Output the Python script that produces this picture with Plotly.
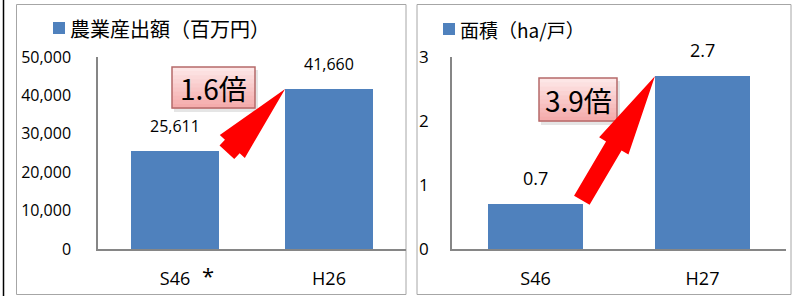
import math
import plotly.graph_objects as go

W, H = 796, 296

# ---------------- data ----------------
left_categories = ["S46", "H26"]
left_values = [25611, 41660]
left_title = "農業産出額（百万円）"
left_ratio_label = "1.6倍"
left_ticks = [0, 10000, 20000, 30000, 40000, 50000]
left_note_mark = "*"

right_categories = ["S46", "H27"]
right_values = [0.7, 2.7]
right_title = "面積（ha/戸）"
right_ratio_label = "3.9倍"
right_ticks = [0, 1, 2, 3]

# ---------------- style ----------------
BAR = "#4F81BD"
AXIS = "#868686"
FRAME = "#A6A6A6"
LAT = "Open Sans, Noto Sans CJK JP, sans-serif"
CJK = "Noto Sans CJK JP, sans-serif"
BAR_W = 0.57


def px(x):
    return x / W


def py(y):
    return 1 - y / H


fig = go.Figure()
fig.add_trace(go.Bar(x=list(range(len(left_values))), y=left_values, width=BAR_W,
                     marker=dict(color=BAR, line=dict(width=0)), name=left_title,
                     xaxis="x", yaxis="y", hoverinfo="y", showlegend=False))
fig.add_trace(go.Bar(x=list(range(len(right_values))), y=right_values, width=BAR_W,
                     marker=dict(color=BAR, line=dict(width=0)), name=right_title,
                     xaxis="x2", yaxis="y2", hoverinfo="y", showlegend=False))

ydom = [py(249), py(57)]
common_x = dict(range=[-0.5, 1.5], showline=True, linecolor=AXIS, linewidth=1.5,
                showgrid=False, zeroline=False, ticks="", fixedrange=True, automargin=False,
                tickfont=dict(family=LAT, size=18, color="#000"), ticklabelstandoff=13)
common_y = dict(showline=True, linecolor=AXIS, linewidth=1.5, showgrid=False,
                zeroline=False, ticks="", fixedrange=True, automargin=False,
                tickfont=dict(family=LAT, size=16, color="#000"))

fig.update_layout(
    width=W, height=H, autosize=False,
    margin=dict(l=0, r=0, t=0, b=0, pad=0, autoexpand=False),
    paper_bgcolor="white", plot_bgcolor="white", bargap=0,
    xaxis=dict(common_x, domain=[px(98), px(406)], anchor="y",
               tickvals=list(range(len(left_categories))), ticktext=left_categories),
    yaxis=dict(common_y, domain=ydom, anchor="x", range=[0, max(left_ticks)],
               tickvals=left_ticks, tickformat=",", ticklabelstandoff=22),
    xaxis2=dict(common_x, domain=[px(452), px(786)], anchor="y2",
                tickvals=list(range(len(right_categories))), ticktext=right_categories),
    yaxis2=dict(common_y, domain=ydom, anchor="x2", range=[0, max(right_ticks)],
                tickvals=right_ticks, ticklabelstandoff=18,
                tickfont=dict(family=LAT, size=17, color="#000")),
)

shapes = []
annotations = []

# panel frames and left edge line
shapes.append(dict(type="rect", xref="paper", yref="paper", x0=px(16.5), x1=px(406),
                   y0=py(294.5), y1=py(4.5), line=dict(color=FRAME, width=1), layer="below"))
shapes.append(dict(type="rect", xref="paper", yref="paper", x0=px(417), x1=px(791),
                   y0=py(294.5), y1=py(4.5), line=dict(color=FRAME, width=1), layer="below"))
shapes.append(dict(type="line", xref="paper", yref="paper", x0=px(3.5), x1=px(3.5),
                   y0=0, y1=1, line=dict(color="#000", width=1.5)))

# legends (manual)
def legend(x_sq, y_mid, text, size):
    shapes.append(dict(type="rect", xref="paper", yref="paper", x0=px(x_sq), x1=px(x_sq + 12),
                       y0=py(y_mid + 6), y1=py(y_mid - 6), fillcolor=BAR, line=dict(width=0)))
    annotations.append(dict(xref="paper", yref="paper", x=px(x_sq + 15), y=py(y_mid),
                            xanchor="left", yanchor="middle", text=text, showarrow=False,
                            font=dict(family=CJK, size=size, color="#000")))

legend(53, 28, left_title, 20)
legend(443, 29, right_title, 19)

# value labels
for xa, ya, vals, fmt, size in [("x", "y", left_values, "{:,}", 16),
                                ("x2", "y2", right_values, "{}", 18)]:
    for i, v in enumerate(vals):
        annotations.append(dict(xref=xa, yref=ya, x=i, y=v, yanchor="bottom", yshift=12,
                                text=fmt.format(v), showarrow=False,
                                font=dict(family=LAT, size=size, color="#000")))

# note mark next to first left category
annotations.append(dict(xref="x", yref="paper", x=0, y=py(275), xshift=33,
                        yanchor="middle", text=left_note_mark, showarrow=False,
                        font=dict(family=LAT, size=22, color="#000")))


# ratio boxes (gradient simulated with strips)
def ratio_box(x0, y0, x1, y1, text):
    shapes.append(dict(type="rect", xref="paper", yref="paper", x0=px(x0 + 2), x1=px(x1 + 3),
                       y0=py(y1 + 4), y1=py(y0 + 3), fillcolor="rgba(0,0,0,0.10)",
                       line=dict(width=0)))
    n = 10
    top = (253, 230, 230)
    bot = (244, 172, 172)
    for k in range(n):
        t = k / (n - 1)
        c = tuple(round(top[j] + (bot[j] - top[j]) * t) for j in range(3))
        ya = y0 + (y1 - y0) * k / n
        yb = y0 + (y1 - y0) * (k + 1) / n
        shapes.append(dict(type="rect", xref="paper", yref="paper", x0=px(x0), x1=px(x1),
                           y0=py(yb + 0.5), y1=py(ya), fillcolor="rgb(%d,%d,%d)" % c,
                           line=dict(width=0)))
    shapes.append(dict(type="rect", xref="paper", yref="paper", x0=px(x0), x1=px(x1),
                       y0=py(y1), y1=py(y0), fillcolor="rgba(0,0,0,0)",
                       line=dict(color="#B56A6A", width=1.5)))
    annotations.append(dict(xref="paper", yref="paper", x=px((x0 + x1) / 2),
                            y=py((y0 + y1) / 2), xanchor="center", yanchor="middle",
                            text=text, showarrow=False,
                            font=dict(family=CJK, size=28, color="#000")))

ratio_box(172, 67, 255, 108, left_ratio_label)
ratio_box(539, 78, 617, 121, right_ratio_label)


# block arrows (pixel geometry anchored at top-left corner of second bar)
def arrow(xref, yref, xa, ya, angle_deg, total, head_len, head_hw, shaft_hw):
    a = math.radians(angle_deg)
    ux, uy = math.cos(a), math.sin(a)          # tail -> tip (y up)
    bx, by = -ux, -uy
    nx, ny = -uy, ux
    pts = [
        (0, 0),
        (bx * head_len + nx * head_hw, by * head_len + ny * head_hw),
        (bx * head_len + nx * shaft_hw, by * head_len + ny * shaft_hw),
        (bx * total + nx * shaft_hw, by * total + ny * shaft_hw),
        (bx * total - nx * shaft_hw, by * total - ny * shaft_hw),
        (bx * head_len - nx * shaft_hw, by * head_len - ny * shaft_hw),
        (bx * head_len - nx * head_hw, by * head_len - ny * head_hw),
    ]
    path = "M " + " L ".join("%.2f,%.2f" % p for p in pts) + " Z"
    shapes.append(dict(type="path", xref=xref, yref=yref, xsizemode="pixel",
                       ysizemode="pixel", xanchor=xa, yanchor=ya, path=path,
                       fillcolor="#FF0000", line=dict(width=0)))

arrow("x", "y", 1 - BAR_W / 2, left_values[1], 47.4, 86, 78, 17, 10)
arrow("x2", "y2", 1 - BAR_W / 2, right_values[1], 59.5, 144, 81, 17, 9)

fig.update_layout(shapes=shapes, annotations=annotations)
fig.write_html("out.html", config=dict(displayModeBar=False, responsive=False),
               post_script="document.body.style.margin='0';document.body.style.overflow='hidden';")
